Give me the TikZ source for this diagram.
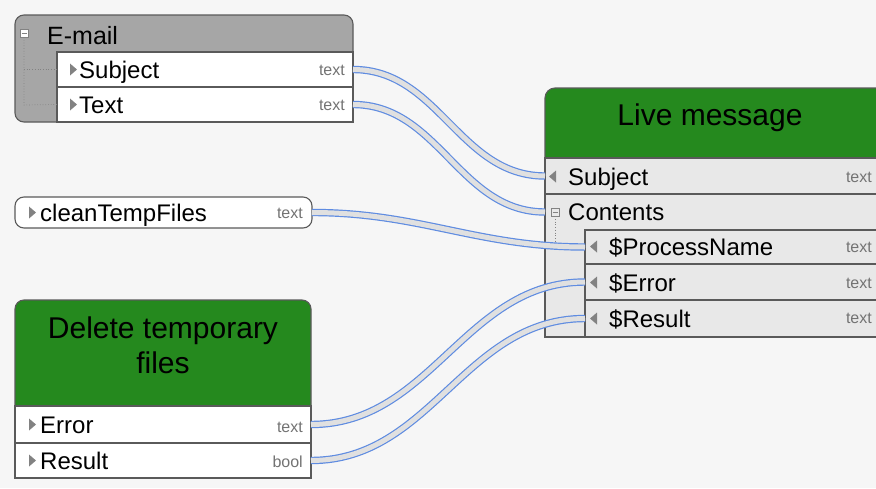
\documentclass[tikz,border=0pt]{standalone}
\usepackage{fontspec}
\setmainfont{Liberation Sans}
\definecolor{bgc}{RGB}{246,246,246}
\definecolor{bordc}{RGB}{90,90,90}
\definecolor{greenc}{RGB}{37,137,30}
\definecolor{emailg}{RGB}{166,166,166}
\definecolor{rowg}{RGB}{232,232,232}
\definecolor{typc}{RGB}{115,115,115}
\definecolor{tric}{RGB}{130,130,130}
\definecolor{connb}{RGB}{95,140,225}
\definecolor{conng}{RGB}{224,224,224}
\begin{document}
\begin{tikzpicture}[x=1pt,y=-1pt,
  box/.style={draw=bordc, line width=1.1pt, inner sep=0pt, outer sep=0pt, anchor=north west},
  wrow/.style={box, fill=white},
  grayrow/.style={box, fill=rowg},
  lab/.style={font=\fontsize{24}{24}\selectfont, anchor=base west, inner sep=0pt},
  hlab/.style={font=\fontsize{30}{34}\selectfont, anchor=base, inner sep=0pt, align=center},
  typ/.style={font=\fontsize{16}{16}\selectfont, text=typc, anchor=base east, inner sep=0pt},
  conn/.style={draw=connb, line width=1.2pt, double=conng, double distance=5pt},
  minusbox/.style={draw=tric, fill=white, line width=0.6pt, minimum size=8pt, inner sep=0pt},
  treeline/.style={draw=tric, dotted, line width=0.7pt}]
\useasboundingbox (0,0) rectangle (876,488);
\clip (0,0) rectangle (876,488);
\fill[bgc] (0,0) rectangle (876,488);

% ---------- E-mail ----------
\node[box, fill=emailg, rounded corners=9pt, minimum width=338pt, minimum height=107pt] (email) at (15,15) {};
\node[minusbox] (emin) at (24,33) {};
\draw[tric, line width=0.8pt] (emin.center) ++(-2.5,0) -- ++(5,0);
\node[lab, font=\fontsize{25}{25}\selectfont] (emailt) at (47,44) {E-mail};
\node[wrow, minimum width=296pt, minimum height=35pt] (esub) at (57,52) {};
\node[wrow, minimum width=296pt, minimum height=35pt] (etext) at (57,87) {};
\draw[treeline] (emin.south) -- (24,105) -- (etext.west);
\draw[treeline] (24,69.5) -- (esub.west);
\fill[tric] (70,63.5) -- (77,69.5) -- (70,75.5) -- cycle;
\fill[tric] (70,98.5) -- (77,104.5) -- (70,110.5) -- cycle;
\node[lab] (esubl) at (79,78) {Subject};
\node[lab] (etextl) at (79,113) {Text};
\node[typ] (esubt) at (345,75) {text};
\node[typ] (etextt) at (345,110) {text};

% ---------- cleanTempFiles ----------
\node[box, fill=white, rounded corners=9pt, minimum width=297pt, minimum height=31pt] (clean) at (15,197) {};
\fill[tric] (29,206.5) -- (36,212.5) -- (29,218.5) -- cycle;
\node[lab] (cleanl) at (40,221) {cleanTempFiles};
\node[typ] (cleant) at (303,218) {text};

% ---------- Delete temporary files ----------
\node[box, fill=greenc, rounded corners=9pt, minimum width=296pt, minimum height=178pt] (del) at (15,300) {};
\node[hlab] (dell) at (163,338) {Delete temporary};
\node[hlab] (dell2) at (163,373) {files};
\node[wrow, minimum width=296pt, minimum height=37pt] (derr) at (15,406) {};
\node[wrow, minimum width=296pt, minimum height=35pt] (dres) at (15,443) {};
\fill[tric] (29,418.5) -- (36,424.5) -- (29,430.5) -- cycle;
\fill[tric] (29,454.5) -- (36,460.5) -- (29,466.5) -- cycle;
\node[lab] (derrl) at (40,433) {Error};
\node[lab] (dresl) at (40,469) {Result};
\node[typ] (derrt) at (303,432) {text};
\node[typ] (drest) at (303,467) {bool};

% ---------- Live message ----------
\node[box, fill=greenc, rounded corners=10pt, minimum width=345pt, minimum height=249pt] (live) at (545,88) {};
\node[hlab] (livel) at (710,125) {Live message};
\node[grayrow, minimum width=345pt, minimum height=36pt] (lsub) at (545,158) {};
\node[grayrow, minimum width=345pt, minimum height=143pt] (lcont) at (545,194) {};
\node[grayrow, minimum width=305pt, minimum height=34pt] (lproc) at (585,230) {};
\node[grayrow, minimum width=305pt, minimum height=36pt] (lerr) at (585,264) {};
\node[grayrow, minimum width=305pt, minimum height=37pt] (lres) at (585,300) {};
\draw[bordc, line width=1.1pt] (lcont.south west) -- (lcont.south east);
\node[minusbox, fill=rowg] (lmin) at (555,212) {};
\draw[tric, line width=0.8pt] (lmin.center) ++(-2.5,0) -- ++(5,0);
\draw[treeline] (lmin.south) -- (555,250);
\fill[tric] (556,170.5) -- (549,176.5) -- (556,182.5) -- cycle;
\fill[tric] (597,240.5) -- (590,246.5) -- (597,252.5) -- cycle;
\fill[tric] (597,276.5) -- (590,282.5) -- (597,288.5) -- cycle;
\fill[tric] (597,312.5) -- (590,318.5) -- (597,324.5) -- cycle;
\node[lab] (lsubl) at (568,185) {Subject};
\node[lab] (lcontl) at (568,220) {Contents};
\node[lab] (lprocl) at (609,255) {\$ProcessName};
\node[lab] (lerrl) at (609,291) {\$Error};
\node[lab] (lresl) at (609,327) {\$Result};
\node[typ] (lsubt) at (872,182) {text};
\node[typ] (lproct) at (872,252) {text};
\node[typ] (lerrt) at (872,288) {text};
\node[typ] (lrest) at (872,323) {text};

% ---------- connectors ----------
\draw[conn] (esub.east) to[out=0,in=180] (lsub.west);
\draw[conn] (etext.east) to[out=0,in=180] (lcont.west |- lmin);
\draw[conn] (clean.east) to[out=0,in=180] (lproc.west);
\draw[conn] (derr.east) to[out=0,in=180] (lerr.west);
\draw[conn] (dres.east) to[out=0,in=180] (lres.west);
\end{tikzpicture}
\end{document}
